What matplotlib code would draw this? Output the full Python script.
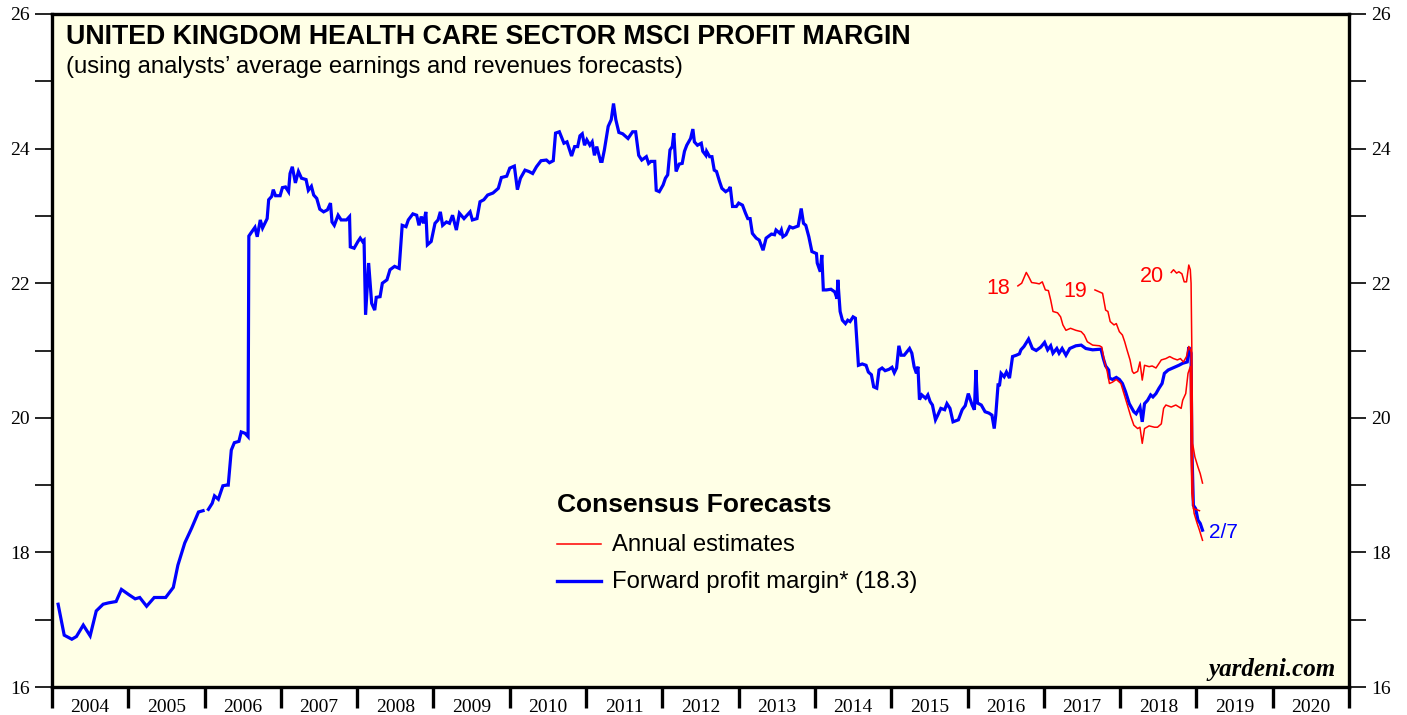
import numpy as np
import matplotlib as mpl
mpl.use('Agg')
import matplotlib.pyplot as plt
from matplotlib.ticker import FixedLocator, FuncFormatter

# ---------------- data ----------------
fwd_year = [
    2004.08, 2004.16, 2004.26, 2004.32, 2004.41, 2004.50, 2004.58, 2004.67, 2004.74, 2004.84,
    2004.91, 2005.01, 2005.09, 2005.15, 2005.24, 2005.34, 2005.49, 2005.59, 2005.65, 2005.74,
    2005.83, 2005.92, 2005.98, 2006.015,
    2006.05, 2006.10, 2006.13, 2006.18, 2006.24, 2006.29, 2006.31, 2006.35, 2006.39, 2006.45,
    2006.48, 2006.53, 2006.57, 2006.58, 2006.61, 2006.66, 2006.69, 2006.73, 2006.76, 2006.82,
    2006.84, 2006.88, 2006.90, 2006.93, 2006.99, 2007.02, 2007.06, 2007.10, 2007.12, 2007.15,
    2007.19, 2007.23, 2007.27, 2007.33, 2007.36, 2007.40, 2007.43, 2007.47, 2007.51, 2007.56,
    2007.61, 2007.65, 2007.67, 2007.70, 2007.75, 2007.79, 2007.86, 2007.90, 2007.91, 2007.96,
    2008.01, 2008.04, 2008.07, 2008.09, 2008.11, 2008.15, 2008.19, 2008.23, 2008.25, 2008.30,
    2008.33, 2008.39, 2008.43, 2008.49, 2008.55, 2008.59, 2008.64, 2008.67, 2008.73, 2008.78,
    2008.81, 2008.84, 2008.87, 2008.90, 2008.92, 2008.97, 2009.02, 2009.06, 2009.09, 2009.12,
    2009.17, 2009.21, 2009.25, 2009.30, 2009.34, 2009.40, 2009.44, 2009.48, 2009.51, 2009.57,
    2009.61, 2009.66, 2009.71, 2009.78, 2009.85, 2009.89, 2009.96, 2010.00, 2010.06, 2010.10,
    2010.14, 2010.20, 2010.25, 2010.30, 2010.35, 2010.41, 2010.48, 2010.52, 2010.57, 2010.60,
    2010.65, 2010.71, 2010.75, 2010.81, 2010.85, 2010.89, 2010.92, 2010.95, 2010.98, 2011.01,
    2011.05, 2011.08, 2011.11, 2011.14, 2011.19, 2011.21, 2011.24, 2011.29, 2011.33, 2011.36,
    2011.39, 2011.43, 2011.48, 2011.55, 2011.61, 2011.65, 2011.69, 2011.73, 2011.79, 2011.82,
    2011.85, 2011.90, 2011.92, 2011.96, 2012.01, 2012.04, 2012.07, 2012.10, 2012.13, 2012.15,
    2012.18, 2012.22, 2012.26, 2012.29, 2012.32, 2012.37, 2012.40, 2012.42, 2012.46, 2012.51,
    2012.53, 2012.57, 2012.58, 2012.62, 2012.65, 2012.68, 2012.71, 2012.75, 2012.78, 2012.83,
    2012.87, 2012.89, 2012.92, 2012.97, 2013.00, 2013.05, 2013.09, 2013.12, 2013.15, 2013.18,
    2013.23, 2013.27, 2013.32, 2013.36, 2013.43, 2013.47, 2013.49, 2013.54, 2013.56, 2013.58,
    2013.62, 2013.67, 2013.71, 2013.78, 2013.82, 2013.85, 2013.88, 2013.92, 2013.96, 2014.02,
    2014.03, 2014.07, 2014.09, 2014.11, 2014.15, 2014.21, 2014.26, 2014.29, 2014.30, 2014.33,
    2014.36, 2014.40, 2014.43, 2014.46, 2014.50, 2014.53, 2014.57, 2014.62, 2014.67, 2014.70,
    2014.74, 2014.77, 2014.81, 2014.84, 2014.88, 2014.92, 2014.97, 2015.01, 2015.04, 2015.07,
    2015.10, 2015.13, 2015.17, 2015.24, 2015.27, 2015.30, 2015.33, 2015.35, 2015.37, 2015.40,
    2015.45, 2015.48, 2015.51, 2015.54, 2015.58, 2015.61, 2015.65, 2015.70, 2015.73, 2015.77,
    2015.81, 2015.88, 2015.93, 2015.97, 2016.01, 2016.06, 2016.09, 2016.11, 2016.13, 2016.18,
    2016.23, 2016.28, 2016.32, 2016.35, 2016.37, 2016.40, 2016.42, 2016.44, 2016.48, 2016.51,
    2016.55, 2016.59, 2016.64, 2016.68, 2016.70, 2016.74, 2016.80, 2016.85, 2016.90, 2016.96,
    2017.01, 2017.05, 2017.09, 2017.12, 2017.17, 2017.20, 2017.24, 2017.29, 2017.34, 2017.42,
    2017.49, 2017.55, 2017.64, 2017.75, 2017.78, 2017.81, 2017.85, 2017.86, 2017.90, 2017.95,
    2017.99, 2018.03, 2018.07, 2018.12, 2018.18, 2018.21, 2018.24, 2018.26, 2018.29, 2018.32,
    2018.36, 2018.40, 2018.43, 2018.47, 2018.51, 2018.55, 2018.58, 2018.63, 2018.69, 2018.73,
    2018.77, 2018.82, 2018.88, 2018.90, 2018.93, 2018.94, 2018.96, 2018.99, 2019.02, 2019.05,
    2019.08,
]
fwd_margin = [
    17.23, 16.77, 16.71, 16.75, 16.92, 16.76, 17.13, 17.23, 17.25, 17.27,
    17.45, 17.37, 17.31, 17.33, 17.20, 17.33, 17.33, 17.48, 17.81, 18.14,
    18.36, 18.60, 18.62, np.nan,
    18.64, 18.73, 18.84, 18.79, 18.99, 19.00, 19.00, 19.52, 19.63, 19.65,
    19.79, 19.77, 19.72, 22.70, 22.75, 22.83, 22.69, 22.94, 22.82, 22.96,
    23.24, 23.29, 23.39, 23.30, 23.30, 23.42, 23.43, 23.36, 23.63, 23.73,
    23.49, 23.66, 23.56, 23.54, 23.38, 23.44, 23.31, 23.26, 23.10, 23.06,
    23.09, 23.19, 22.91, 22.86, 23.01, 22.94, 22.94, 22.99, 22.54, 22.52,
    22.62, 22.67, 22.62, 22.64, 21.53, 22.30, 21.70, 21.60, 21.79, 21.80,
    22.00, 22.05, 22.20, 22.25, 22.22, 22.86, 22.84, 22.94, 23.03, 23.01,
    22.86, 22.99, 22.89, 23.06, 22.57, 22.62, 22.89, 22.94, 23.06, 22.86,
    22.91, 22.89, 23.01, 22.79, 23.04, 22.96, 23.01, 23.06, 22.94, 22.96,
    23.21, 23.24, 23.31, 23.34, 23.41, 23.57, 23.59, 23.71, 23.74, 23.39,
    23.56, 23.68, 23.66, 23.63, 23.73, 23.82, 23.83, 23.79, 23.82, 24.23,
    24.25, 24.08, 24.10, 23.89, 24.03, 24.03, 24.19, 24.22, 24.05, 24.13,
    24.05, 24.10, 23.90, 24.03, 23.81, 23.81, 23.98, 24.33, 24.43, 24.67,
    24.43, 24.24, 24.22, 24.15, 24.25, 24.25, 23.90, 23.83, 23.88, 23.78,
    23.81, 23.81, 23.38, 23.36, 23.46, 23.56, 23.61, 23.98, 24.03, 24.23,
    23.66, 23.77, 23.78, 23.96, 24.05, 24.15, 24.29, 24.10, 24.05, 24.08,
    23.96, 23.90, 23.96, 23.88, 23.88, 23.68, 23.66, 23.51, 23.41, 23.36,
    23.39, 23.43, 23.14, 23.14, 23.19, 23.16, 23.04, 22.96, 22.96, 22.74,
    22.67, 22.64, 22.49, 22.67, 22.73, 22.72, 22.79, 22.74, 22.79, 22.69,
    22.72, 22.84, 22.82, 22.85, 23.11, 22.89, 22.86, 22.69, 22.47, 22.44,
    22.30, 22.17, 22.42, 21.90, 21.90, 21.91, 21.87, 21.77, 22.05, 21.58,
    21.45, 21.40, 21.45, 21.43, 21.50, 21.48, 20.78, 20.80, 20.78, 20.68,
    20.64, 20.46, 20.44, 20.71, 20.74, 20.70, 20.72, 20.75, 20.67, 20.74,
    21.07, 20.93, 20.93, 21.03, 20.96, 20.76, 20.66, 20.76, 20.27, 20.34,
    20.29, 20.34, 20.24, 20.19, 19.97, 20.04, 20.14, 20.12, 20.21, 20.14,
    19.94, 19.97, 20.12, 20.18, 20.36, 20.19, 20.12, 20.71, 20.22, 20.19,
    20.09, 20.07, 20.04, 19.84, 20.04, 20.49, 20.49, 20.66, 20.61, 20.68,
    20.59, 20.91, 20.93, 20.95, 21.01, 21.06, 21.17, 21.03, 21.00, 21.05,
    21.12, 21.01, 21.07, 20.96, 21.03, 20.96, 21.03, 20.93, 21.03, 21.07,
    21.08, 21.03, 21.01, 21.02, 20.88, 20.77, 20.71, 20.59, 20.57, 20.60,
    20.57, 20.51, 20.39, 20.21, 20.09, 20.06, 20.12, 20.16, 19.94, 20.21,
    20.26, 20.34, 20.31, 20.36, 20.44, 20.51, 20.66, 20.71, 20.74, 20.76,
    20.78, 20.81, 20.83, 21.05, 20.96, 19.57, 18.70, 18.65, 18.48, 18.43,
    18.33,
]

est18_year = [
    2016.66, 2016.71, 2016.77, 2016.80, 2016.84, 2016.90, 2016.94, 2016.98, 2017.02, 2017.06,
    2017.09, 2017.12, 2017.18, 2017.22, 2017.25, 2017.29, 2017.35, 2017.42, 2017.49, 2017.53,
    2017.57, 2017.64, 2017.73, 2017.76, 2017.79, 2017.83, 2017.86, 2017.90, 2017.95, 2018.01,
    2018.05, 2018.09, 2018.14, 2018.18, 2018.23, 2018.26, 2018.29, 2018.32, 2018.38, 2018.45,
    2018.49, 2018.54, 2018.57, 2018.60, 2018.67, 2018.73, 2018.80, 2018.82, 2018.86, 2018.89,
    2018.92, 2018.93, 2018.94, 2018.97, 2019.01, 2019.04, 2019.08,
]
est18_val = [
    21.96, 22.00, 22.16, 22.10, 22.01, 22.00, 21.99, 22.02, 21.90, 21.89,
    21.75, 21.58, 21.56, 21.50, 21.38, 21.30, 21.33, 21.30, 21.28, 21.23,
    21.13, 21.08, 21.07, 21.05, 20.86, 20.69, 20.51, 20.53, 20.57, 20.51,
    20.36, 20.21, 20.02, 19.89, 19.84, 19.86, 19.62, 19.84, 19.88, 19.86,
    19.86, 19.91, 20.14, 20.19, 20.16, 20.19, 20.14, 20.26, 20.36, 20.66,
    20.76, 19.57, 18.88, 18.58, 18.43, 18.33, 18.18,
]

est19_year = [
    2017.67, 2017.73, 2017.77, 2017.81, 2017.84, 2017.87, 2017.92, 2017.95, 2017.99, 2018.03,
    2018.06, 2018.09, 2018.13, 2018.16, 2018.18, 2018.23, 2018.26, 2018.29, 2018.32, 2018.38,
    2018.42, 2018.47, 2018.54, 2018.60, 2018.65, 2018.70, 2018.75, 2018.79, 2018.83, 2018.87,
    2018.90, 2018.93, 2018.94, 2018.96, 2018.99, 2019.04,
]
est19_val = [
    21.90, 21.87, 21.85, 21.60, 21.58, 21.43, 21.38, 21.40, 21.28, 21.23,
    21.13, 21.01, 20.86, 20.69, 20.66, 20.69, 20.83, 20.56, 20.78, 20.76,
    20.77, 20.74, 20.86, 20.88, 20.91, 20.88, 20.86, 20.88, 20.83, 20.91,
    21.06, 20.98, 19.86, 18.65, 18.64, 18.62,
]

est20_year = [
    2018.67, 2018.70, 2018.74, 2018.77, 2018.81, 2018.84, 2018.87, 2018.90, 2018.92, 2018.93,
    2018.94, 2018.95, 2018.98, 2019.02, 2019.05, 2019.08,
]
est20_val = [
    22.16, 22.20, 22.15, 22.17, 22.14, 22.02, 22.02, 22.27, 22.20, 22.00,
    21.01, 19.62, 19.42, 19.27, 19.17, 19.03,
]

year_labels = [str(y) for y in range(2004, 2021)]

# ---------------- figure ----------------
dpi = 100
bg = '#FFFFE6'
red = '#FF0000'
blue = '#0000FF'
serif = ['Liberation Serif', 'DejaVu Serif']
sans = ['Liberation Sans', 'DejaVu Sans']

fig = plt.figure(figsize=(1407/dpi, 715/dpi), dpi=dpi, facecolor='white')
ax = fig.add_axes([52/1407, 28/715, (1349-52)/1407, (687-14)/715])
ax.set_facecolor(bg)

ax.plot(est18_year, est18_val, color=red, lw=1.1, zorder=3)
ax.plot(est19_year, est19_val, color=red, lw=1.1, zorder=3)
ax.plot(est20_year, est20_val, color=red, lw=1.1, zorder=3)
ax.plot(fwd_year, fwd_margin, color=blue, lw=2.3, zorder=2, solid_joinstyle='miter')

ax.set_xlim(2004, 2021)
ax.set_ylim(16, 26)

for s in ax.spines.values():
    s.set_linewidth(2.4)

# x axis: ticks at year boundaries, labels centred between
ax.xaxis.set_major_locator(FixedLocator(np.arange(2004, 2022)))
ax.xaxis.set_major_formatter(FuncFormatter(lambda v, p: ''))
ax.set_xticks(np.arange(2004, 2021) + 0.5, year_labels, minor=True)
ax.tick_params(axis='x', which='major', direction='out', length=15, width=2.4)
ax.tick_params(axis='x', which='minor', length=0, pad=9, labelsize=14)

# y axis: ticks every 1, labels on even values, both sides
ax.yaxis.set_major_locator(FixedLocator(np.arange(16, 27)))
ax.yaxis.set_major_formatter(FuncFormatter(lambda v, p: '%d' % v if int(round(v)) % 2 == 0 else ''))
ax.tick_params(axis='y', which='major', direction='out', length=12, width=1.2,
               labelsize=14, left=True, right=True, labelleft=True, labelright=True, pad=4)

for lab in ax.get_xticklabels(minor=True) + ax.get_yticklabels():
    lab.set_fontfamily(serif)

# titles
ax.text(0.011, 0.955, 'UNITED KINGDOM HEALTH CARE SECTOR MSCI PROFIT MARGIN', transform=ax.transAxes,
        fontsize=19.3, fontweight='bold', family=sans, va='baseline', ha='left')
ax.text(0.011, 0.912, '(using analysts\u2019 average earnings and revenues forecasts)', transform=ax.transAxes,
        fontsize=17.2, family=sans, va='baseline', ha='left')

# legend (drawn by hand, like the original)
ax.text(0.389, 0.270, 'Consensus Forecasts', transform=ax.transAxes, fontsize=19,
        fontweight='bold', family=sans, va='center', ha='left')
ax.plot([0.389, 0.423], [0.212, 0.212], transform=ax.transAxes, color=red, lw=1.1)
ax.plot([0.389, 0.423], [0.157, 0.157], transform=ax.transAxes, color=blue, lw=2.4)
ax.text(0.432, 0.211, 'Annual estimates', transform=ax.transAxes, fontsize=17.2,
        family=sans, va='center', ha='left')
ax.text(0.432, 0.156, 'Forward profit margin* (18.3)', transform=ax.transAxes, fontsize=17.2,
        family=sans, va='center', ha='left')

# series labels
ax.text(2016.56, 21.92, '18', color=red, fontsize=15.5, family=sans, ha='right', va='center')
ax.text(2017.57, 21.88, '19', color=red, fontsize=15.5, family=sans, ha='right', va='center')
ax.text(2018.57, 22.10, '20', color=red, fontsize=15.5, family=sans, ha='right', va='center')
ax.text(2019.17, 18.29, '2/7', color=blue, fontsize=15, family=sans, ha='left', va='center')

ax.text(0.99, 0.016, 'yardeni.com', transform=ax.transAxes, fontsize=18, family=serif,
        fontweight='bold', style='italic', ha='right', va='baseline')

plt.savefig('out.png', dpi=dpi, facecolor='white')
